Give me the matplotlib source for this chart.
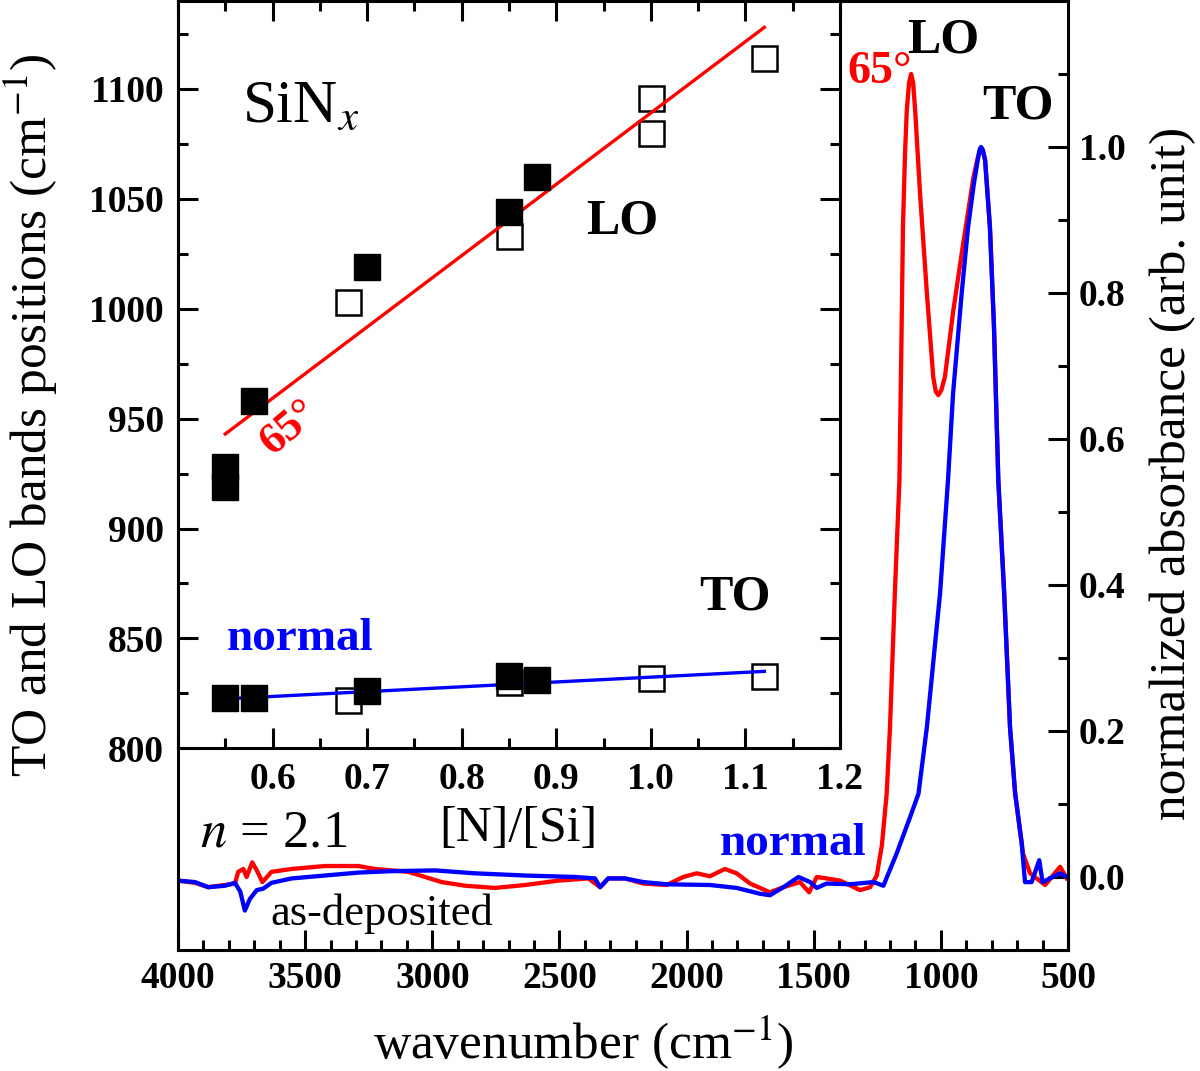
import numpy as np
import matplotlib
matplotlib.use("Agg")
import matplotlib.pyplot as plt
from matplotlib.ticker import MultipleLocator

plt.rcParams["font.family"] = ["Liberation Serif", "DejaVu Serif"]
plt.rcParams["mathtext.fontset"] = "stix"

# --- FTIR spectra, normalized absorbance ---
wn_65 = [4000, 3933, 3881, 3815, 3776, 3763, 3743, 3730, 3708, 3690, 3668, 3632,
         3553, 3422, 3291, 3226, 3094, 2963, 2871, 2753, 2635, 2504, 2386, 2340,
         2308, 2242, 2170, 2078, 2013, 1960, 1908, 1849, 1803, 1750, 1672, 1619,
         1554, 1518, 1488, 1449, 1396, 1318, 1278, 1252, 1232, 1213, 1200, 1181,
         1163, 1156, 1149, 1141, 1134, 1125, 1117, 1109, 1101, 1082, 1055, 1030,
         1020, 1010, 998, 984, 951, 912, 872, 855, 842, 835, 826, 807, 791, 774,
         751, 728, 708, 682, 677, 649, 590, 531, 505]
abs_65 = [-0.005, -0.008, -0.014, -0.011, -0.009, 0.007, 0.011, 0.000, 0.020, 0.009,
          -0.007, 0.007, 0.011, 0.015, 0.015, 0.011, 0.007, -0.007, -0.012, -0.015,
          -0.011, -0.005, -0.002, -0.014, -0.002, -0.002, -0.009, -0.011, 0.000,
          0.005, 0.001, 0.011, 0.005, -0.009, -0.021, -0.014, -0.007, -0.021, 0.000,
          -0.002, -0.005, -0.018, -0.014, 0.002, 0.043, 0.114, 0.205, 0.388, 0.543,
          0.708, 0.890, 0.990, 1.050, 1.088, 1.100, 1.088, 1.050, 0.937, 0.800,
          0.685, 0.665, 0.660, 0.667, 0.685, 0.776, 0.868, 0.958, 0.985, 0.999,
          0.995, 0.982, 0.890, 0.753, 0.543, 0.389, 0.205, 0.115, 0.046, 0.032,
          0.005, -0.011, 0.014, -0.002]

wn_normal = [4000, 3933, 3881, 3815, 3776, 3755, 3737, 3717, 3690, 3665, 3632, 3553,
             3422, 3291, 3160, 2989, 2832, 2635, 2439, 2360, 2340, 2308, 2242, 2170,
             2078, 1908, 1803, 1711, 1672, 1619, 1560, 1514, 1488, 1449, 1357, 1265,
             1226, 1174, 1121, 1088, 1055, 1003, 972, 952, 918, 893, 870, 855, 848,
             842, 835, 826, 807, 791, 774, 751, 728, 708, 682, 669, 643, 613, 600,
             571, 531, 505]
abs_normal = [-0.005, -0.007, -0.014, -0.012, -0.008, -0.020, -0.046, -0.030, -0.018,
              -0.016, -0.008, -0.002, 0.002, 0.006, 0.008, 0.009, 0.005, 0.002, 0.000,
              -0.002, -0.014, -0.002, -0.002, -0.007, -0.010, -0.011, -0.015, -0.023,
              -0.025, -0.014, 0.000, -0.007, -0.015, -0.009, -0.010, -0.007, -0.012,
              0.032, 0.082, 0.114, 0.205, 0.389, 0.543, 0.662, 0.800, 0.890, 0.950,
              0.982, 0.996, 1.000, 0.996, 0.982, 0.890, 0.753, 0.543, 0.389, 0.205,
              0.115, 0.046, -0.007, -0.007, 0.023, -0.007, -0.002, 0.005, 0.000]

# --- inset: TO / LO band positions vs [N]/[Si] ---
lo_ratio_filled = [0.55, 0.55, 0.58, 0.70, 0.85, 0.88]
lo_pos_filled = [919, 928, 958, 1019, 1044, 1060]
lo_ratio_open = [0.68, 0.85, 1.00, 1.00, 1.12]
lo_pos_open = [1003, 1033, 1080, 1096, 1114]
to_ratio_filled = [0.55, 0.58, 0.70, 0.85, 0.88]
to_pos_filled = [823, 823, 826, 833, 831]
to_ratio_open = [0.68, 0.85, 1.00, 1.12]
to_pos_open = [822, 830, 832, 833]

# linear fits (end points)
lo_fit_x = [0.55, 1.12]
lo_fit_y = [943, 1128]
to_fit_x = [0.55, 1.12]
to_fit_y = [822.5, 835]

RED = "#ff0000"
BLUE = "#0000ff"
SPINE_W = 2.2
TICK_FS = 27

fig = plt.figure(figsize=(12, 10.71), dpi=100, facecolor="white")

# ---------------- main spectra axes ----------------
ax = fig.add_axes([0.1483, 0.1130, 0.7417, 0.8861])
ax.plot(wn_65, abs_65, color=RED, lw=3.1)
ax.plot(wn_normal, abs_normal, color=BLUE, lw=3.1)
ax.set_xlim(4000, 500)
ax.set_ylim(-0.1, 1.2)

ax.set_xticks(np.arange(4000, 499, -500),
              labels=[str(v) for v in range(4000, 499, -500)],
              fontweight="bold", fontsize=TICK_FS)
ax.xaxis.set_minor_locator(MultipleLocator(100))
yt = [0.0, 0.2, 0.4, 0.6, 0.8, 1.0]
ax.set_yticks(yt, labels=[f"{v:.1f}" for v in yt], fontweight="bold", fontsize=TICK_FS)
ax.yaxis.set_minor_locator(MultipleLocator(0.1))
ax.yaxis.tick_right()
ax.yaxis.set_label_position("right")
ax.tick_params(which="both", direction="in", width=SPINE_W,
               left=False, top=False, right=True, bottom=True)
ax.tick_params(which="major", length=14.4)
ax.tick_params(which="minor", length=7.2)
ax.tick_params(axis="x", pad=8)
ax.tick_params(axis="y", pad=8)
for sp in ax.spines.values():
    sp.set_linewidth(SPINE_W)

ax.set_xlabel("wavenumber (cm$^{-1}$)", fontsize=37)
ax.xaxis.set_label_coords(0.455, -0.067)
ax.set_ylabel("normalized absorbance (arb. unit)", fontsize=37)
ax.yaxis.set_label_coords(1.092, 0.502)

ax.text(1369, 1.087, "65°", color=RED, fontsize=33, fontweight="bold")
ax.text(1133, 1.13, "LO", color="black", fontsize=36, fontweight="bold")
ax.text(839, 1.039, "TO", color="black", fontsize=36, fontweight="bold")
ax.text(1868, 0.030, "normal", color=BLUE, fontsize=34, fontweight="bold")
ax.text(3913, 0.042, "$n$ = 2.1", color="black", fontsize=38)
ax.text(3638, -0.066, "as-deposited", color="black", fontsize=32)

# ---------------- inset ----------------
ax_in = fig.add_axes([0.1483, 0.3013, 0.5517, 0.6978])
ax_in.set_facecolor("white")
ax_in.plot(lo_ratio_open, lo_pos_open, "s", ms=18, mfc="none", mec="black", mew=1.8)
ax_in.plot(to_ratio_open, to_pos_open, "s", ms=18, mfc="none", mec="black", mew=1.8)
ax_in.plot(lo_fit_x, lo_fit_y, color=RED, lw=2.4)
ax_in.plot(to_fit_x, to_fit_y, color=BLUE, lw=2.4)
ax_in.plot(lo_ratio_filled, lo_pos_filled, "s", ms=19, color="black")
ax_in.plot(to_ratio_filled, to_pos_filled, "s", ms=19, color="black")

ax_in.set_xlim(0.5, 1.2)
ax_in.set_ylim(800, 1140)
xt = [0.6, 0.7, 0.8, 0.9, 1.0, 1.1, 1.2]
ax_in.set_xticks(xt, labels=[f"{v:.1f}" for v in xt], fontweight="bold", fontsize=TICK_FS)
ax_in.xaxis.set_minor_locator(MultipleLocator(0.05))
yt_in = [800, 850, 900, 950, 1000, 1050, 1100]
ax_in.set_yticks(yt_in, labels=[str(v) for v in yt_in], fontweight="bold", fontsize=TICK_FS)
ax_in.yaxis.set_minor_locator(MultipleLocator(25))
ax_in.tick_params(which="both", direction="in", width=SPINE_W,
                  left=True, right=True, top=True, bottom=True)
ax_in.tick_params(which="major", length=14.4, pad=10)
ax_in.tick_params(which="minor", length=7.2)
for sp in ax_in.spines.values():
    sp.set_linewidth(SPINE_W)

ax_in.set_xlabel("[N]/[Si]", fontsize=36)
ax_in.xaxis.set_label_coords(0.5136, -0.076)
ax_in.set_ylabel("TO and LO bands positions (cm$^{-1}$)", fontsize=37)
ax_in.yaxis.set_label_coords(-0.178, 0.445)

ax_in.text(0.568, 1085, "SiN$_x$", fontsize=44)
ax_in.text(0.9316, 1034, "LO", fontsize=36, fontweight="bold")
ax_in.text(1.051, 863, "TO", fontsize=36, fontweight="bold")
ax_in.text(0.5516, 844.7, "normal", color=BLUE, fontsize=34, fontweight="bold")
ax_in.text(0.6177, 945.8, "65°", color=RED, fontsize=32, fontweight="bold",
           rotation=40, ha="center", va="center", rotation_mode="anchor")

fig.savefig("out.png", dpi=100, facecolor="white")
